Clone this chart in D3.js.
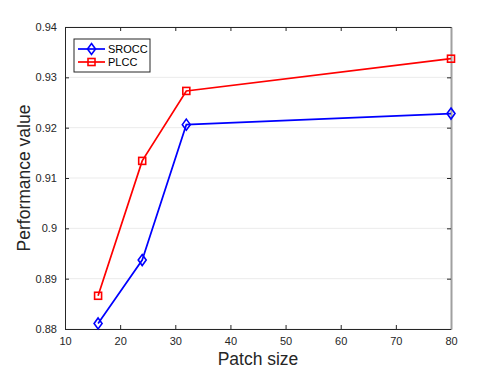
<!DOCTYPE html>
<html>
<head>
<meta charset="utf-8">
<script src="https://cdn.jsdelivr.net/npm/d3@7"></script>
<style>
  body { margin: 0; background: #fff; }
  text { font-family: "Liberation Sans", Arial, sans-serif; }
</style>
</head>
<body>
<svg id="chart" width="498" height="374"></svg>
<script>
let patch = [16, 24, 32, 80];
let srocc = [0.8811, 0.8937, 0.9206, 0.9228];
let plcc = [0.8866, 0.9134, 0.9273, 0.9337];
let xticks = [10, 20, 30, 40, 50, 60, 70, 80];
let yticks = [0.88, 0.89, 0.9, 0.91, 0.92, 0.93, 0.94];
let ylabels = ["0.88", "0.89", "0.9", "0.91", "0.92", "0.93", "0.94"];

let margin = {left: 65, right: 47, top: 27, bottom: 45};
let W = 498, H = 374;
let svg = d3.select("#chart");
let g = svg.append("g").attr("transform", `translate(${margin.left},${margin.top})`);
let w = W - margin.left - margin.right;
let h = H - margin.top - margin.bottom;

let scx = d3.scaleLinear([10, 80], [0, w]);
let scy = d3.scaleLinear([0.88, 0.94], [h, 0]);

// grid
g.selectAll(".grid")
  .data(yticks)
  .join("line")
  .attr("class", "grid")
  .attr("x1", 0).attr("x2", w)
  .attr("y1", d => scy(d)).attr("y2", d => scy(d))
  .attr("stroke", "#ebebeb")
  .attr("stroke-width", 1);

// axes
let xax = g.append("g").attr("transform", `translate(0,${h})`)
  .call(d3.axisBottom(scx).tickValues(xticks).tickSizeInner(-4).tickSizeOuter(0).tickPadding(8));
let xtop = g.append("g")
  .call(d3.axisTop(scx).tickValues(xticks).tickSizeInner(-4).tickSizeOuter(0).tickFormat(""));
let yax = g.append("g")
  .call(d3.axisLeft(scy).tickValues(yticks).tickSizeInner(-4).tickSizeOuter(0).tickPadding(8)
    .tickFormat((d, i) => ylabels[i]));
let yright = g.append("g").attr("transform", `translate(${w},0)`)
  .call(d3.axisRight(scy).tickValues(yticks).tickSizeInner(-4).tickSizeOuter(0).tickFormat(""));

[xax, xtop, yax].forEach(a => {
  a.select(".domain").attr("stroke", "#262626").attr("stroke-width", 1);
  a.selectAll(".tick line").attr("stroke", "#262626");
  a.selectAll(".tick text").attr("fill", "#262626").attr("font-size", 11);
});
yright.select(".domain").attr("stroke", "#a0a0a0").attr("stroke-width", 2);
yright.selectAll(".tick line").attr("stroke", "#262626");

// lines
let line = d3.line().x((d, i) => scx(patch[i])).y(d => scy(d));
let series = [
  {name: "SROCC", vals: srocc, color: "#0000ff", shape: "diamond"},
  {name: "PLCC", vals: plcc, color: "#ff0000", shape: "square"}
];

function marker(sel, shape, color) {
  if (shape === "diamond") {
    sel.append("path").attr("d", "M0,-5.5L4,0L0,5.5L-4,0Z");
  } else {
    sel.append("rect").attr("x", -3.5).attr("y", -3.5).attr("width", 7).attr("height", 7);
  }
  sel.selectAll("path,rect").attr("fill", "none").attr("stroke", color).attr("stroke-width", 1.6);
}

series.forEach(s => {
  g.append("path")
    .datum(s.vals)
    .attr("fill", "none")
    .attr("stroke", s.color)
    .attr("stroke-width", 1.7)
    .attr("d", line);
  g.selectAll(".m" + s.name)
    .data(s.vals)
    .join("g")
    .attr("class", "m" + s.name)
    .attr("transform", (d, i) => `translate(${scx(patch[i])},${scy(d)})`)
    .each(function () { marker(d3.select(this), s.shape, s.color); });
});

// legend
let lg = g.append("g").attr("transform", "translate(9,12)");
lg.append("rect").attr("width", 76).attr("height", 33)
  .attr("fill", "#fff").attr("stroke", "#262626").attr("stroke-width", 1);
series.forEach((s, i) => {
  let row = lg.append("g").attr("transform", `translate(0,${10 + i * 13})`);
  row.append("line").attr("x1", 4).attr("x2", 31).attr("y1", 0).attr("y2", 0)
    .attr("stroke", s.color).attr("stroke-width", 1.7);
  let m = row.append("g").attr("transform", "translate(17.5,0)");
  marker(m, s.shape, s.color);
  row.append("text").attr("x", 34).attr("y", 4).attr("font-size", 11)
    .attr("fill", "#000").text(s.name);
});

// axis labels
svg.append("text")
  .attr("x", margin.left + w / 2).attr("y", 365)
  .attr("text-anchor", "middle").attr("font-size", 17.5).attr("fill", "#262626")
  .text("Patch size");
svg.append("text")
  .attr("transform", `translate(30,${margin.top + h / 2}) rotate(-90)`)
  .attr("text-anchor", "middle").attr("font-size", 17.5).attr("fill", "#262626")
  .text("Performance value");
</script>
</body>
</html>
